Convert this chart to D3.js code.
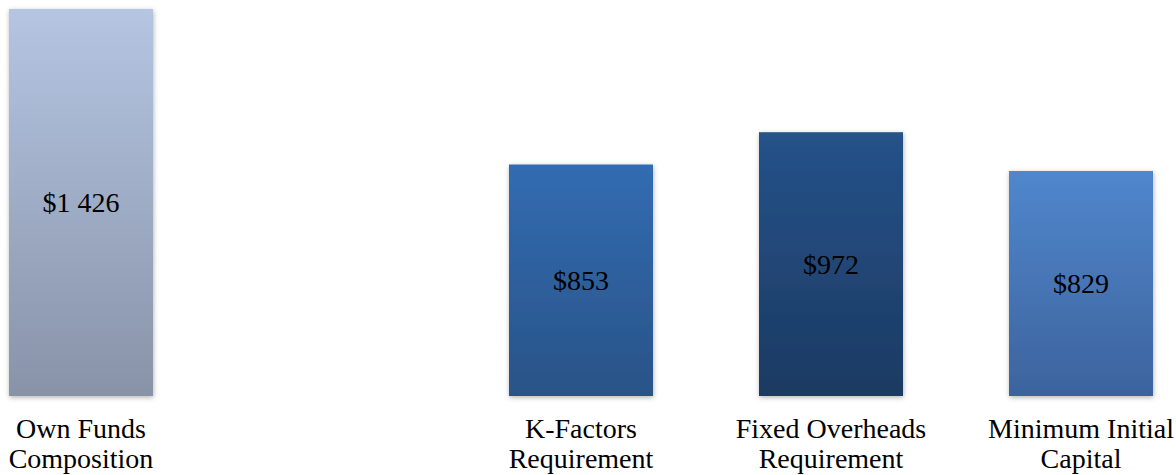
<!DOCTYPE html>
<html>
  <head>
    <meta charset='utf-8'>
    <title></title>
    <script src='https://d3js.org/d3.v7.min.js'></script>
    <style>
      body {
        margin: 0;
        background: #fff;
      }
      svg {
        display: block;
      }
      .value-label, .cat-label {
        font-family: 'Liberation Serif', 'Times New Roman', serif;
        font-size: 28px;
        fill: #000;
        text-anchor: middle;
      }
    </style>
  </head>
  <body>
  <script type='text/javascript'>

    // chart data (the second slot is left empty in the original)
    var categories = ['Own Funds\nComposition', '', 'K-Factors\nRequirement', 'Fixed Overheads\nRequirement', 'Minimum Initial\nCapital'];
    var values = [1426, null, 853, 972, 829];

    // gradient colours per bar: [top, bottom]
    var barColors = [
      ['#b5c5e2', '#8893a8'],
      null,
      ['#316cb2', '#2a5387'],
      ['#25528a', '#1c3a62'],
      ['#5087cd', '#3d639d']
    ];

    var width = 1176;
    var height = 475;

    var svg = d3.select('body')
              .append('svg')
              .attr('width', width)
              .attr('height', height);

    var defs = svg.append('defs');

    var shadow = defs.append('filter')
      .attr('id', 'shadow')
      .attr('x', '-10%').attr('y', '-10%')
      .attr('width', '130%').attr('height', '130%');
    shadow.append('feDropShadow')
      .attr('dx', 0.5).attr('dy', 1.5)
      .attr('stdDeviation', 2.5)
      .attr('flood-color', '#000')
      .attr('flood-opacity', 0.3);

    barColors.forEach(function(c, i) {
      if (!c) return;
      var grad = defs.append('linearGradient')
        .attr('id', 'grad' + i)
        .attr('x1', 0).attr('y1', 0)
        .attr('x2', 0).attr('y2', 1);
      grad.append('stop').attr('offset', '0%').attr('stop-color', c[0]);
      grad.append('stop').attr('offset', '100%').attr('stop-color', c[1]);
    });

    var x = d3.scaleBand()
              .domain(d3.range(categories.length))
              .range([-44, 1206])
              .paddingInner(0.424)
              .paddingOuter(0.212);

    var y = d3.scaleLinear()
              .domain([0, d3.max(values)])
              .range([396, 9]);

    var fmt = d3.formatLocale({decimal: '.', thousands: ' ', grouping: [3], currency: ['$', '']}).format('$,');

    var data = values.map(function(v, i) { return {i: i, value: v, name: categories[i]}; });

    var bars = svg.selectAll('.bar')
      .data(data.filter(function(d) { return d.value != null; }))
      .enter().append('g')
      .attr('class', 'bar');

    bars.append('rect')
      .attr('x', function(d) { return x(d.i); })
      .attr('y', function(d) { return y(d.value); })
      .attr('width', x.bandwidth())
      .attr('height', function(d) { return y(0) - y(d.value); })
      .attr('fill', function(d) { return 'url(#grad' + d.i + ')'; })
      .attr('filter', 'url(#shadow)');

    bars.append('text')
      .attr('class', 'value-label')
      .attr('x', function(d) { return x(d.i) + x.bandwidth() / 2; })
      .attr('y', function(d) { return (y(d.value) + y(0)) / 2; })
      .attr('dy', '0.35em')
      .text(function(d) { return fmt(d.value); });

    // category labels, two lines each
    var cats = svg.selectAll('.cat-label')
      .data(data.filter(function(d) { return d.name !== ''; }))
      .enter().append('text')
      .attr('class', 'cat-label')
      .attr('x', function(d) { return x(d.i) + x.bandwidth() / 2; })
      .attr('y', 438);

    cats.selectAll('tspan')
      .data(function(d) { return d.name.split('\n').map(function(t) { return {t: t, cx: x(d.i) + x.bandwidth() / 2}; }); })
      .enter().append('tspan')
      .attr('x', function(d) { return d.cx; })
      .attr('dy', function(d, j) { return j === 0 ? 0 : 30; })
      .text(function(d) { return d.t; });

  </script>
  </body>
</html>
